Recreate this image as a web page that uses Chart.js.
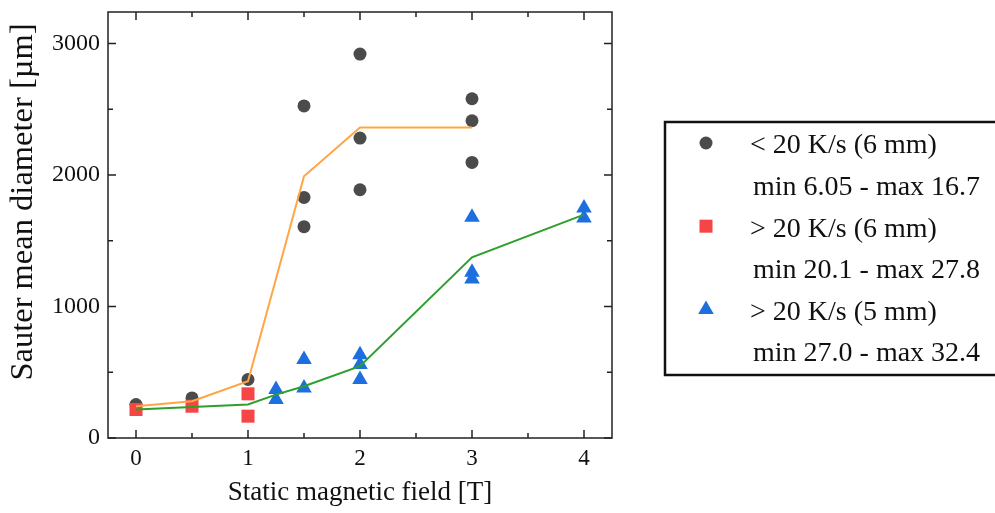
<!DOCTYPE html>
<html>
<head>
<meta charset="utf-8">
<script src="https://cdn.jsdelivr.net/npm/chart.js@4/dist/chart.umd.min.js"></script>
<style>
    html, body { margin: 0; padding: 0; background: #fff; }
    #wrap { width: 995px; height: 513px; position: relative; }
</style>
</head>
<body>
<div id="wrap"><canvas id="grafico"></canvas></div>
<script>
// ==================== DADOS ====================
const circuloX = [0, 0.5, 1, 1.5, 1.5, 1.5, 2, 2, 2, 3, 3, 3];
const circuloY = [255, 305, 445, 2526, 1830, 1607, 2920, 2281, 1888, 2580, 2413, 2096];

const quadradoX = [0, 0.5, 1, 1];
const quadradoY = [217, 242, 336, 166];

const trianguloX = [1.25, 1.25, 1.5, 1.5, 2, 2, 2, 3, 3, 3, 4, 4];
const trianguloY = [369, 293, 597, 381, 634, 559, 445, 1678, 1260, 1210, 1749, 1673];

const linhaLaranjaX = [0, 0.5, 1, 1.5, 2, 3];
const linhaLaranjaY = [242, 280, 432, 1990, 2362, 2362];

const linhaVerdeX = [0, 1, 1.25, 1.5, 2, 3, 4];
const linhaVerdeY = [217, 255, 330, 394, 546, 1374, 1699];

const ticksX = [0, 1, 2, 3, 4];
const ticksY = [0, 1000, 2000, 3000];

const legendaTitulos = ['< 20 K/s (6 mm)', '> 20 K/s (6 mm)', '> 20 K/s (5 mm)'];
const legendaFaixas = ['min 6.05 - max 16.7', 'min 20.1 - max 27.8', 'min 27.0 - max 32.4'];

const tituloX = 'Static magnetic field [T]';
const tituloY = 'Sauter mean diameter [µm]';

const CINZA = '#4b4b4b';
const VERMELHO = '#f54545';
const AZUL = '#1d6fe0';
const LARANJA = '#ffa545';
const VERDE = '#2ca02c';
const FONTE = '"Liberation Serif", "Times New Roman", serif';

function pares(xs, ys) {
    return xs.map((x, i) => ({ x: x, y: ys[i] }));
}

// ticks para dentro nos quatro lados + moldura
const pluginMoldura = {
    id: 'moldura',
    afterDatasetsDraw(chart) {
        const ctx = chart.ctx;
        const area = chart.chartArea;
        const sx = chart.scales.x;
        const sy = chart.scales.y;
        ctx.save();
        ctx.strokeStyle = '#222';
        ctx.lineWidth = 1.5;
        ctx.beginPath();
        for (let v = 0; v <= 4; v += 0.5) {
            const px = sx.getPixelForValue(v);
            const len = Number.isInteger(v) ? 8 : 5;
            ctx.moveTo(px, area.bottom);
            ctx.lineTo(px, area.bottom - len);
            ctx.moveTo(px, area.top);
            ctx.lineTo(px, area.top + len);
        }
        for (let v = 0; v <= 3000; v += 500) {
            const py = sy.getPixelForValue(v);
            const len = v % 1000 === 0 ? 8 : 5;
            ctx.moveTo(area.left, py);
            ctx.lineTo(area.left + len, py);
            ctx.moveTo(area.right, py);
            ctx.lineTo(area.right - len, py);
        }
        ctx.stroke();
        ctx.strokeRect(area.left, area.top, area.right - area.left, area.bottom - area.top);

        // titulo do eixo y (deslocado para cima como no original)
        ctx.fillStyle = '#111';
        ctx.font = '32.5px ' + FONTE;
        ctx.textAlign = 'center';
        ctx.textBaseline = 'middle';
        ctx.translate(23, 202);
        ctx.rotate(-Math.PI / 2);
        ctx.fillText(tituloY, 0, 0);
        ctx.restore();
    }
};

// legenda em caixa, fora da area do grafico
const pluginLegenda = {
    id: 'legendaCaixa',
    afterDraw(chart) {
        const ctx = chart.ctx;
        const estilos = [
            { pointStyle: 'circle', radius: 6.5, cor: CINZA },
            { pointStyle: 'rect', radius: 9.2, cor: VERMELHO },
            { pointStyle: 'triangle', radius: 9, cor: AZUL }
        ];
        ctx.save();
        ctx.strokeStyle = '#111';
        ctx.lineWidth = 2.5;
        ctx.strokeRect(665, 122, 340, 253);

        ctx.font = '28px ' + FONTE;
        ctx.fillStyle = '#111';
        ctx.textAlign = 'left';
        ctx.textBaseline = 'middle';
        const y0 = 146;
        const passo = 41.6;
        legendaTitulos.forEach((titulo, i) => {
            const yt = y0 + passo * 2 * i;
            const e = estilos[i];
            ctx.fillStyle = e.cor;
            Chart.helpers.drawPoint(ctx, {
                pointStyle: e.pointStyle,
                radius: e.radius,
                rotation: 0,
                borderWidth: 0
            }, 706, yt - 3);
            ctx.fillStyle = '#111';
            ctx.fillText(titulo, 750, yt);
            ctx.fillText(legendaFaixas[i], 753, yt + passo);
        });
        ctx.restore();
    }
};

const grafico = new Chart(document.getElementById('grafico'), {
    type: 'scatter',
    data: {
        datasets: [
            {
                label: 'ajuste laranja',
                data: pares(linhaLaranjaX, linhaLaranjaY),
                showLine: true,
                borderColor: LARANJA,
                borderWidth: 2,
                pointRadius: 0,
                order: 0
            },
            {
                label: 'ajuste verde',
                data: pares(linhaVerdeX, linhaVerdeY),
                showLine: true,
                borderColor: VERDE,
                borderWidth: 2,
                pointRadius: 0,
                order: 1
            },
            {
                label: legendaTitulos[0],
                data: pares(circuloX, circuloY),
                pointStyle: 'circle',
                pointRadius: 6.5,
                backgroundColor: CINZA,
                borderWidth: 0,
                order: 4
            },
            {
                label: legendaTitulos[1],
                data: pares(quadradoX, quadradoY),
                pointStyle: 'rect',
                pointRadius: 9.2,
                backgroundColor: VERMELHO,
                borderWidth: 0,
                order: 3
            },
            {
                label: legendaTitulos[2],
                data: pares(trianguloX, trianguloY),
                pointStyle: 'triangle',
                pointRadius: 9,
                backgroundColor: AZUL,
                borderWidth: 0,
                order: 2
            }
        ]
    },
    options: {
        responsive: true,
        maintainAspectRatio: false,
        animation: false,
        layout: {
            padding: { top: 12, right: 383, left: 0, bottom: 0 }
        },
        plugins: {
            legend: { display: false },
            tooltip: { enabled: false }
        },
        scales: {
            x: {
                type: 'linear',
                min: -0.25,
                max: 4.25,
                afterBuildTicks: function(scale) {
                    scale.ticks = ticksX.map(v => ({ value: v }));
                },
                ticks: {
                    color: '#111',
                    padding: 7,
                    autoSkip: false,
                    font: { family: FONTE, size: 23 },
                    callback: function(value) { return String(value); }
                },
                grid: { display: false, drawTicks: false },
                border: { display: false },
                title: {
                    display: true,
                    text: tituloX,
                    color: '#111',
                    padding: { top: 0, bottom: 4 },
                    font: { family: FONTE, size: 27 }
                },
                afterFit: function(scale) {
                    scale.height = 75;
                    scale.paddingLeft = 0;
                    scale.paddingRight = 0;
                }
            },
            y: {
                type: 'linear',
                min: 0,
                max: 3240,
                afterBuildTicks: function(scale) {
                    scale.ticks = ticksY.map(v => ({ value: v }));
                },
                ticks: {
                    color: '#111',
                    padding: 8,
                    autoSkip: false,
                    font: { family: FONTE, size: 24 },
                    callback: function(value) { return String(value); }
                },
                grid: { display: false, drawTicks: false },
                border: { display: false },
                afterFit: function(scale) {
                    scale.width = 108;
                    scale.paddingTop = 0;
                    scale.paddingBottom = 0;
                }
            }
        }
    },
    plugins: [pluginMoldura, pluginLegenda]
});
</script>
</body>
</html>
